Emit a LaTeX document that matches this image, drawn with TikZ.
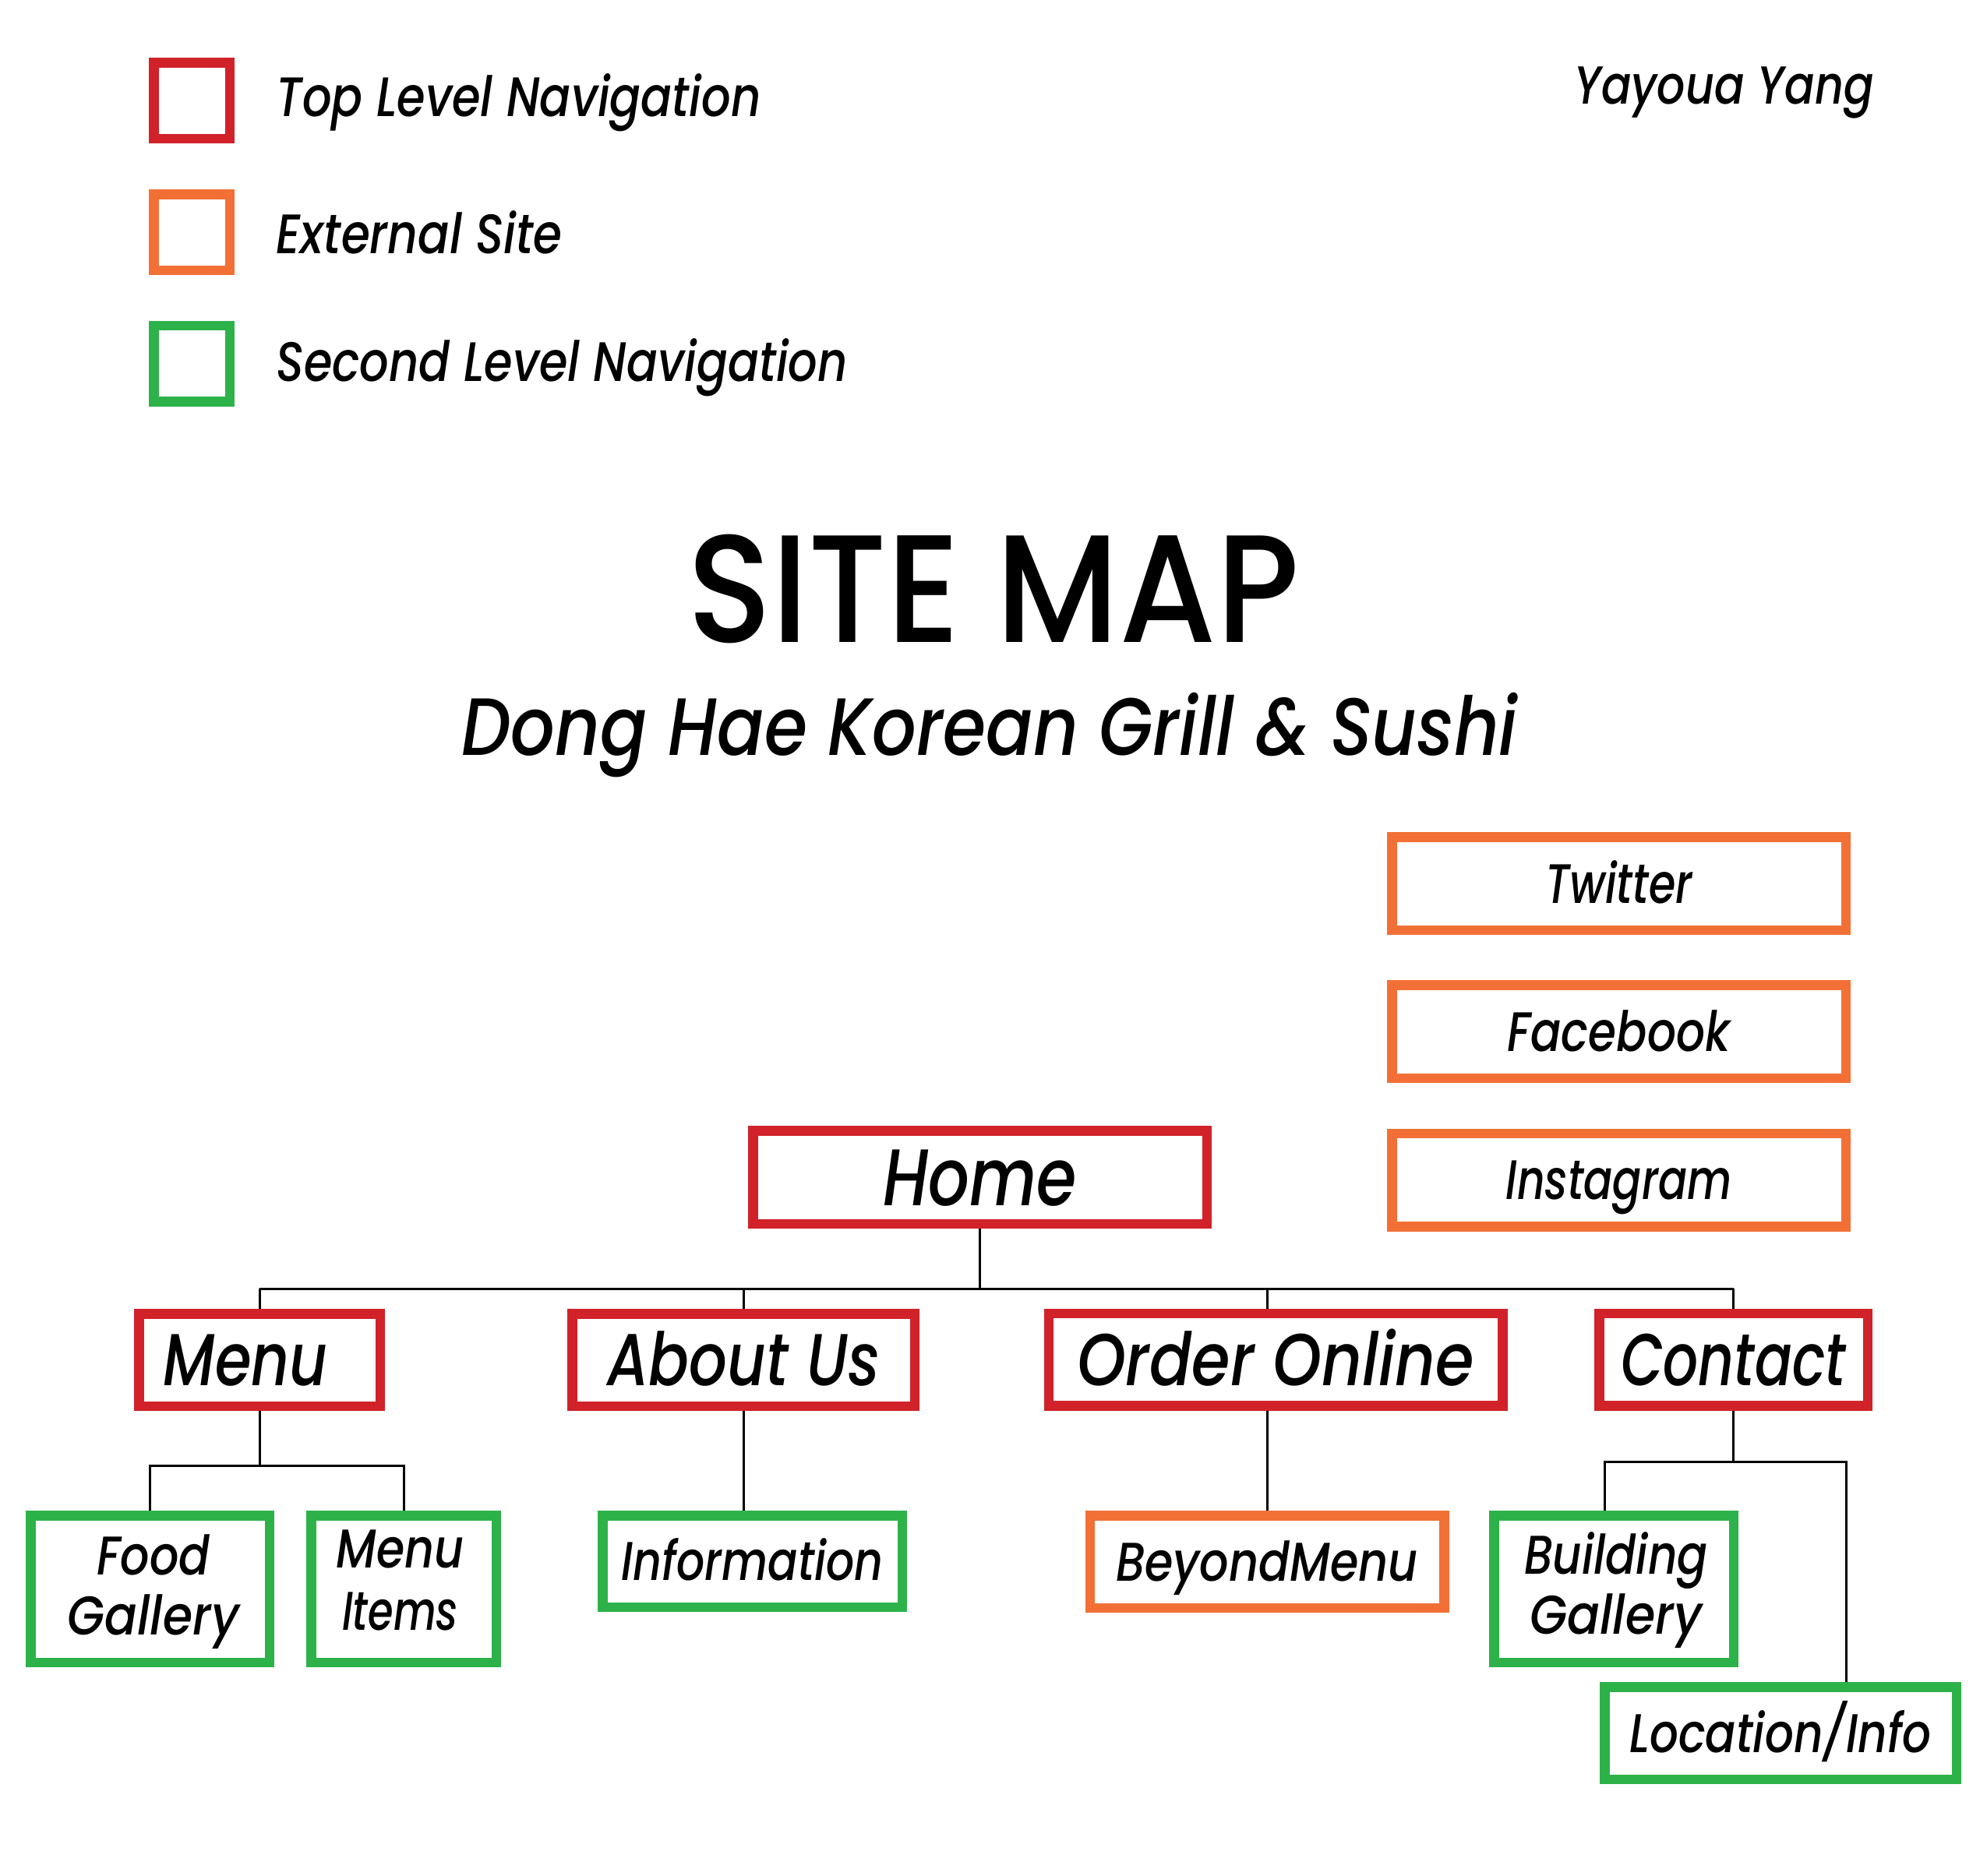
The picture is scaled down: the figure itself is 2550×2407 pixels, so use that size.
\documentclass[tikz,border=0pt]{standalone}
\usepackage{graphicx}
\usepackage{fontspec}
\setmainfont{Poppins}[UprightFont=* Medium, ItalicFont=* Medium Italic]

\definecolor{navred}{RGB}{209,34,41}
\definecolor{navorange}{RGB}{242,112,54}
\definecolor{navgreen}{RGB}{45,178,74}

% squeeze a text horizontally to a given width (in drawing units)
\newlength\fitlen
\newcommand\fitto[2]{\settowidth{\fitlen}{#2}\pgfmathsetmacro\fitratio{#1*0.3/\fitlen}\scalebox{\fitratio}[1]{#2}}

\tikzset{
  boxbase/.style={draw, rectangle, line width=3.75pt, inner sep=0pt, outer sep=1.875pt},
  toplevel/.style={boxbase, draw=navred},
  external/.style={boxbase, draw=navorange},
  second/.style={boxbase, draw=navgreen},
  wire/.style={line width=0.9pt, draw=black},
  legfont/.style={font=\itshape\fontsize{21.4pt}{26pt}\selectfont},
  extfont/.style={font=\itshape\fontsize{21.4pt}{26pt}\selectfont, text height=15pt, text depth=0pt},
  homefont/.style={font=\itshape\fontsize{30.9pt}{36pt}\selectfont, text height=21.6pt, text depth=0pt},
  topfont/.style={font=\itshape\fontsize{28.3pt}{34pt}\selectfont, text height=19.8pt, text depth=0pt},
  secfont/.style={font=\itshape\fontsize{21pt}{26pt}\selectfont, text height=14.7pt, text depth=0pt},
  seclabel/.style={font=\itshape\fontsize{21pt}{26pt}\selectfont, inner sep=0pt, anchor=base},
}

\begin{document}
\begin{tikzpicture}[x=0.3pt, y=-0.3pt]
\useasboundingbox (0,0) rectangle (2550,2407);

% legend
\node[toplevel, minimum size=29.25pt] (legtop) at (246,129) {};
\node[external, minimum size=29.25pt] (legext) at (246,298) {};
\node[second, minimum size=29.25pt] (legsec) at (246,466.5) {};
\node[legfont, inner sep=0pt, anchor=base west] (legtoptxt) at (354,149) {\fitto{622}{Top Level Navigation}};
\node[legfont, inner sep=0pt, anchor=base west] (legexttxt) at (354,325) {\fitto{367}{External Site}};
\node[legfont, inner sep=0pt, anchor=base west] (legsectxt) at (354,489) {\fitto{733}{Second Level Navigation}};

% author
\node[font=\itshape\fontsize{20.6pt}{25pt}\selectfont, inner sep=0pt, anchor=base west] (author) at (2020,133) {\fitto{384}{Yayoua Yang}};

% title
\node[font=\fontsize{59pt}{66pt}\selectfont, inner sep=0pt, anchor=base] (title) at (1275,824) {\fitto{785}{SITE MAP}};
\node[font=\itshape\fontsize{31.3pt}{38pt}\selectfont, inner sep=0pt, anchor=base] (subtitle) at (1270,969) {\fitto{1355}{Dong Hae Korean Grill \& Sushi}};

% external links
\node[external, extfont, minimum width=174.75pt, minimum height=35.85pt] (twitter) at (2077.5,1134) {\fitto{189}{Twitter}};
\node[external, extfont, minimum width=174.75pt, minimum height=35.85pt] (facebook) at (2077.5,1324) {\fitto{286}{Facebook}};
\node[external, extfont, minimum width=174.75pt, minimum height=35.85pt] (instagram) at (2077.5,1514.5) {\fitto{290}{Instagram}};

% home and top level pages
\node[toplevel, homefont, minimum width=174.75pt, minimum height=35.85pt] (home) at (1257.5,1511) {\fitto{249}{Home}};
\node[toplevel, topfont, minimum width=92.85pt, minimum height=35.55pt] (menu) at (333,1745.5) {\fitto{211}{Menu}\hspace*{10.8pt}};
\node[toplevel, topfont, minimum width=131.85pt, minimum height=35.55pt] (about) at (954,1745.5) {\fitto{350}{About Us}};
\node[toplevel, topfont, minimum width=174.75pt, minimum height=35.55pt] (order) at (1637,1745) {\fitto{510}{Order Online}};
\node[toplevel, topfont, minimum width=103.35pt, minimum height=35.55pt] (contact) at (2224.5,1745) {\fitto{289}{Contact}};

% second level pages
\node[second, minimum width=91.95pt, minimum height=56.55pt] (foodg) at (192.5,2039.5) {};
\node[seclabel] (foodgA) at (197,2021) {\fitto{145}{Food}};
\node[seclabel] (foodgB) at (197,2098) {\fitto{220}{Gallery}};

\node[second, minimum width=71.25pt, minimum height=56.55pt] (mitems) at (518,2039.5) {};
\node[seclabel] (mitemsA) at (513.5,2012) {\fitto{164}{Menu}};
\node[seclabel] (mitemsB) at (513.5,2092) {\fitto{149}{Items}};

\node[second, secfont, minimum width=115.35pt, minimum height=35.25pt] (info) at (965.5,2004) {\fitto{336}{Information}};
\node[external, secfont, minimum width=136.35pt, minimum height=35.55pt] (beyond) at (1626,2004.5) {\fitto{388}{BeyondMenu}};

\node[second, minimum width=92.25pt, minimum height=56.55pt] (bgal) at (2071,2039.5) {};
\node[seclabel] (bgalA) at (2074,2020) {\fitto{236}{Building}};
\node[seclabel] (bgalB) at (2074,2097) {\fitto{221}{Gallery}};

\node[second, secfont, minimum width=135.45pt, minimum height=35.55pt] (locinfo) at (2285,2224.5) {\fitto{387}{Location/Info}};

% connectors
\coordinate (bus) at (0,1654);
\coordinate (msplit) at (0,1881);
\coordinate (csplit) at (0,1876);
\coordinate (bgaldrop) at ([xshift=-3.6pt]bgal.north);
\coordinate (locdrop) at ([xshift=25.2pt]locinfo.north);

\draw[wire] (home.south) -- (home.south |- bus);
\draw[wire] (menu.north |- bus) -- (contact.north |- bus);
\draw[wire] (menu.north) -- (menu.north |- bus);
\draw[wire] (about.north) -- (about.north |- bus);
\draw[wire] (order.north -| beyond.north) -- (beyond.north |- bus);
\draw[wire] (contact.north) -- (contact.north |- bus);

\draw[wire] (menu.south) -- (menu.south |- msplit);
\draw[wire] (foodg.north) -- (foodg.north |- msplit) -- (mitems.north |- msplit) -- (mitems.north);
\draw[wire] (about.south) -- (about.south |- info.north);
\draw[wire] (beyond.north |- order.south) -- (beyond.north);
\draw[wire] (contact.south) -- (contact.south |- csplit);
\draw[wire] (bgaldrop) -- (bgaldrop |- csplit) -- (locdrop |- csplit) -- (locdrop);
\end{tikzpicture}
\end{document}
